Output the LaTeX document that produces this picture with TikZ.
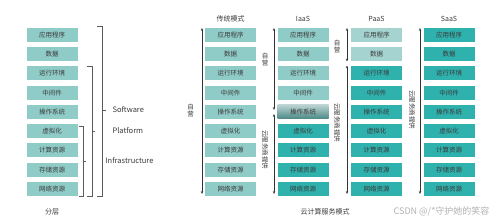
\documentclass[tikz,border=0pt]{standalone}
\usepackage{fontspec}
\setmainfont{Noto Sans CJK SC}
\usetikzlibrary{arrows.meta}
\definecolor{lightbox}{HTML}{8FCBC7}
\definecolor{paleb}{HTML}{A4D3D0}
\definecolor{darkbox}{HTML}{2FB1AD}
\definecolor{txt}{HTML}{3A3A3A}
\definecolor{brk}{HTML}{5A5A5A}
\tikzset{
  cell/.style={minimum width=51pt,minimum height=14pt,inner sep=0pt,font=\fontsize{6.5}{7}\selectfont,text=txt},
  lcell/.style={cell,fill=lightbox},
  pcell/.style={cell,fill=paleb},
  dcell/.style={cell,fill=darkbox},
  gcell/.style={cell,top color=lightbox!70!gray!60,bottom color=darkbox!60!black!80},
  title/.style={font=\fontsize{7}{8}\selectfont,text=txt},
  lab/.style={font=\fontsize{7.5}{8}\selectfont,text=txt},
  vlab/.style={font=\fontsize{6.5}{7}\selectfont,text=txt,inner sep=0pt},
  darr/.style={{Stealth[length=3pt,width=2.4pt]}-{Stealth[length=3pt,width=2.4pt]},draw=black!80,line width=0.6pt},
  bracket/.style={draw=brk,line width=0.6pt},
}
\begin{document}
\begin{tikzpicture}[x=1pt,y=-1pt]
\useasboundingbox (0,0) rectangle (500,221);
\fill[white] (0,0) rectangle (500,221);
\def\names{应用程序,数据,运行环境,中间件,操作系统,虚拟化,计算资源,存储资源,网络资源}
% left column
\foreach \t [count=\i] in \names {
  \node[lcell] (L\i) at (52,{35+19.25*(\i-1)}) {\t};
  \node[lcell] (T\i) at (230.5,{35+19.25*(\i-1)}) {\t};
  \node[dcell] (S\i) at (449,{35+19.25*(\i-1)}) {\t};
}
\foreach \t [count=\i] in \names {
  \ifnum\i<5
    \node[lcell] (I\i) at (303,{35+19.25*(\i-1)}) {\t};
  \else\ifnum\i=5
    \node[gcell] (I\i) at (303,{35+19.25*(\i-1)}) {\t};
  \else
    \node[dcell] (I\i) at (303,{35+19.25*(\i-1)}) {\t};
  \fi\fi
  \ifnum\i<3
    \node[pcell] (P\i) at (376.5,{35+19.25*(\i-1)}) {\t};
  \else
    \node[dcell] (P\i) at (376.5,{35+19.25*(\i-1)}) {\t};
  \fi
}
% titles
\node[title] (tT) at (230.5,19) {传统模式};
\node[title] (tI) at (303,19) {IaaS};
\node[title] (tP) at (376.5,19) {PaaS};
\node[title] (tS) at (449,19) {SaaS};
\node[title] (fc) at (52,212) {分层};
\node[title] (yc) at (325,212) {云计算服务模式};
\node[font=\fontsize{9}{10}\selectfont,text=black!30,anchor=east] (wm) at (493,211) {CSDN @/*守护她的笑容};
% brackets
\draw[bracket] (79,126) -- (83,126) -- (83,196) -- (79,196);
\draw[bracket] (83,161) -- (86,161);
\draw[bracket] (87,66) -- (92,66) -- (92,196) -- (87,196);
\draw[bracket] (92,131) -- (95,131);
\draw[bracket] (97,26) -- (102,26) -- (102,196) -- (97,196);
\draw[bracket] (102,110) -- (106,110);
\node[lab,anchor=west] (sw) at (109,110) {Software};
\node[lab,anchor=west] (pf) at (109,131) {Platform};
\node[lab,anchor=west] (inf) at (102,161) {Infrastructure};
% arrow coordinates
\coordinate (aT1) at (202,28); \coordinate (aT2) at (202,194);
\coordinate (aI1) at (274,28); \coordinate (aI2) at (274,110);
\coordinate (aI3) at (274,114); \coordinate (aI4) at (274,194);
\coordinate (aP1) at (347,28); \coordinate (aP2) at (347,61.5);
\coordinate (aP3) at (347,65.5); \coordinate (aP4) at (347,194);
\coordinate (aS1) at (420,28); \coordinate (aS2) at (420,194);
\draw[darr] (aT1) -- (aT2);
\draw[darr] (aI1) -- (aI2);
\draw[darr] (aI3) -- (aI4);
\draw[darr] (aP1) -- (aP2);
\draw[darr] (aP3) -- (aP4);
\draw[darr] (aS1) -- (aS2);
% vertical labels
\node[vlab,align=center] (zT) at (190.5,111) {自\\营};
\node[vlab,align=center] (zI) at (265,60) {自\\营};
\node[vlab,align=center] (zP) at (337,47) {自\\营};
\node[vlab,rotate=-90] (yI) at (265,150) {云服务商提供};
\node[vlab,rotate=-90] (yP) at (337,123) {云服务商提供};
\node[vlab,rotate=-90] (yS) at (412,110) {云服务商提供};
\end{tikzpicture}
\end{document}
